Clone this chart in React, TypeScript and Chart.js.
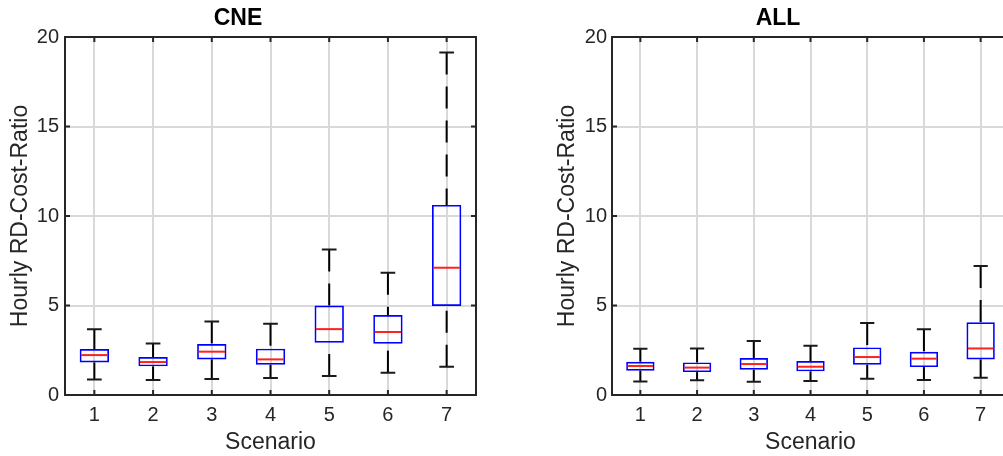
import React, { useEffect, useRef } from 'react';
import { Chart, registerables } from 'chart.js';

Chart.register(...registerables);

const scenarios = ['1', '2', '3', '4', '5', '6', '7'];
const yTickValues = [0, 5, 10, 15, 20];

const cneMin = [0.86, 0.84, 0.89, 0.95, 1.06, 1.25, 1.58];
const cneQ1 = [1.82, 1.6, 1.99, 1.69, 2.92, 2.87, 4.97];
const cneMed = [2.23, 1.84, 2.42, 1.99, 3.68, 3.52, 7.11];
const cneQ3 = [2.57, 2.12, 2.85, 2.59, 5.0, 4.47, 10.62];
const cneMax = [3.67, 2.88, 4.11, 3.98, 8.13, 6.83, 19.14];

const allMin = [0.76, 0.82, 0.74, 0.78, 0.91, 0.84, 0.97];
const allQ1 = [1.36, 1.28, 1.41, 1.32, 1.69, 1.56, 1.99];
const allMed = [1.62, 1.53, 1.73, 1.58, 2.12, 2.03, 2.6];
const allQ3 = [1.86, 1.82, 2.07, 1.9, 2.66, 2.42, 4.06];
const allMax = [2.59, 2.6, 3.01, 2.75, 4.02, 3.67, 7.2];

const FONT = "'Liberation Sans', Arial, Helvetica, sans-serif";
const AXIS = '#262626';

type PanelProps = {
  title: string;
  mins: number[];
  q1: number[];
  med: number[];
  q3: number[];
  maxs: number[];
  left: number;
  width: number;
  padRight: number;
  tickPad: number;
};

function BoxPanel(p: PanelProps) {
  const ref = useRef<HTMLCanvasElement | null>(null);
  useEffect(() => {
    if (!ref.current) return;
    const boxPlugin = {
      id: 'boxWhiskers',
      afterDatasetsDraw(chart: any) {
        const ctx = chart.ctx;
        const ys = chart.scales.y;
        const meta = chart.getDatasetMeta(0);
        ctx.save();
        meta.data.forEach((bar: any, i: number) => {
          const { x, width } = bar.getProps(['x', 'width'], true);
          const pMin = ys.getPixelForValue(p.mins[i]);
          const pQ1 = ys.getPixelForValue(p.q1[i]);
          const pMed = ys.getPixelForValue(p.med[i]);
          const pQ3 = ys.getPixelForValue(p.q3[i]);
          const pMax = ys.getPixelForValue(p.maxs[i]);
          ctx.strokeStyle = '#000000';
          ctx.lineWidth = 2;
          ctx.setLineDash([22, 12]);
          ctx.beginPath();
          ctx.moveTo(x, pMax);
          ctx.lineTo(x, pQ3);
          ctx.stroke();
          ctx.beginPath();
          ctx.moveTo(x, pMin);
          ctx.lineTo(x, pQ1);
          ctx.stroke();
          ctx.setLineDash([]);
          ctx.strokeStyle = '#1a1a1a';
          ctx.beginPath();
          ctx.moveTo(x - width / 4, pMax);
          ctx.lineTo(x + width / 4, pMax);
          ctx.moveTo(x - width / 4, pMin);
          ctx.lineTo(x + width / 4, pMin);
          ctx.stroke();
          ctx.strokeStyle = '#ff2020';
          ctx.beginPath();
          ctx.moveTo(x - width / 2 + 1.5, pMed);
          ctx.lineTo(x + width / 2 - 1.5, pMed);
          ctx.stroke();
        });
        ctx.restore();
      },
      afterDraw(chart: any) {
        const ctx = chart.ctx;
        const a = chart.chartArea;
        const xs = chart.scales.x;
        const ys = chart.scales.y;
        const tl = 5;
        ctx.save();
        ctx.strokeStyle = AXIS;
        ctx.lineWidth = 2;
        ctx.beginPath();
        for (let i = 0; i < scenarios.length; i++) {
          const px = xs.getPixelForValue(i);
          ctx.moveTo(px, a.bottom);
          ctx.lineTo(px, a.bottom - tl);
          ctx.moveTo(px, a.top);
          ctx.lineTo(px, a.top + tl);
        }
        yTickValues.forEach((v) => {
          const py = ys.getPixelForValue(v);
          ctx.moveTo(a.left, py);
          ctx.lineTo(a.left + tl, py);
          ctx.moveTo(a.right, py);
          ctx.lineTo(a.right - tl, py);
        });
        ctx.stroke();
        ctx.strokeRect(a.left, a.top, a.right - a.left, a.bottom - a.top);
        ctx.restore();
      },
    };

    const chart = new Chart(ref.current, {
      type: 'bar',
      data: {
        labels: scenarios,
        datasets: [
          {
            data: p.q1.map((v, i) => [v, p.q3[i]]),
            backgroundColor: 'rgba(0,0,0,0)',
            borderColor: '#0000ff',
            borderWidth: 1.7,
            borderSkipped: false,
            barPercentage: 0.5,
            categoryPercentage: 1,
          } as any,
        ],
      },
      options: {
        animation: false,
        responsive: false,
        devicePixelRatio: 1,
        layout: { padding: { top: 0, right: p.padRight, bottom: 0, left: 0 } },
        plugins: {
          legend: { display: false },
          tooltip: { enabled: false },
          title: {
            display: true,
            text: p.title,
            color: '#000000',
            font: { family: FONT, size: 23, weight: 'bold' },
            padding: { top: 4.5, bottom: 4.9 },
          },
        },
        scales: {
          x: {
            type: 'category',
            offset: true,
            afterFit: (s: any) => {
              s.height = 61;
            },
            grid: { offset: false, color: '#d9d9d9', lineWidth: 2, drawTicks: false },
            border: { display: false },
            ticks: {
              color: AXIS,
              padding: 8,
              maxRotation: 0,
              font: { family: FONT, size: 20 },
            },
            title: {
              display: true,
              text: 'Scenario',
              color: AXIS,
              font: { family: FONT, size: 23 },
              padding: { top: 0, bottom: 0 },
            },
          },
          y: {
            min: 0,
            max: 20,
            afterFit: (s: any) => {
              s.width = 65;
            },
            afterBuildTicks: (s: any) => {
              s.ticks = yTickValues.map((v) => ({ value: v }));
            },
            grid: { color: '#d9d9d9', lineWidth: 2, drawTicks: false },
            border: { display: false },
            ticks: {
              color: AXIS,
              padding: p.tickPad,
              font: { family: FONT, size: 20 },
            },
            title: {
              display: true,
              text: 'Hourly RD-Cost-Ratio',
              color: AXIS,
              font: { family: FONT, size: 23 },
              padding: { top: 7, bottom: 0 },
            },
          },
        },
      } as any,
      plugins: [boxPlugin],
    });
    return () => chart.destroy();
  }, []);
  return (
    <canvas
      ref={ref}
      width={p.width}
      height={456}
      style={{ position: 'absolute', left: p.left, top: 0, width: p.width, height: 456 }}
    />
  );
}

export default function App() {
  return (
    <div
      style={{
        position: 'fixed',
        left: 0,
        top: 0,
        width: 1003,
        height: 456,
        overflow: 'hidden',
        background: '#ffffff',
      }}
    >
      <BoxPanel
        title="CNE"
        mins={cneMin}
        q1={cneQ1}
        med={cneMed}
        q3={cneQ3}
        maxs={cneMax}
        left={0}
        width={490}
        padRight={14}
        tickPad={6}
      />
      <BoxPanel
        title="ALL"
        mins={allMin}
        q1={allQ1}
        med={allMed}
        q3={allQ3}
        maxs={allMax}
        left={547}
        width={472}
        padRight={10}
        tickPad={5}
      />
    </div>
  );
}
